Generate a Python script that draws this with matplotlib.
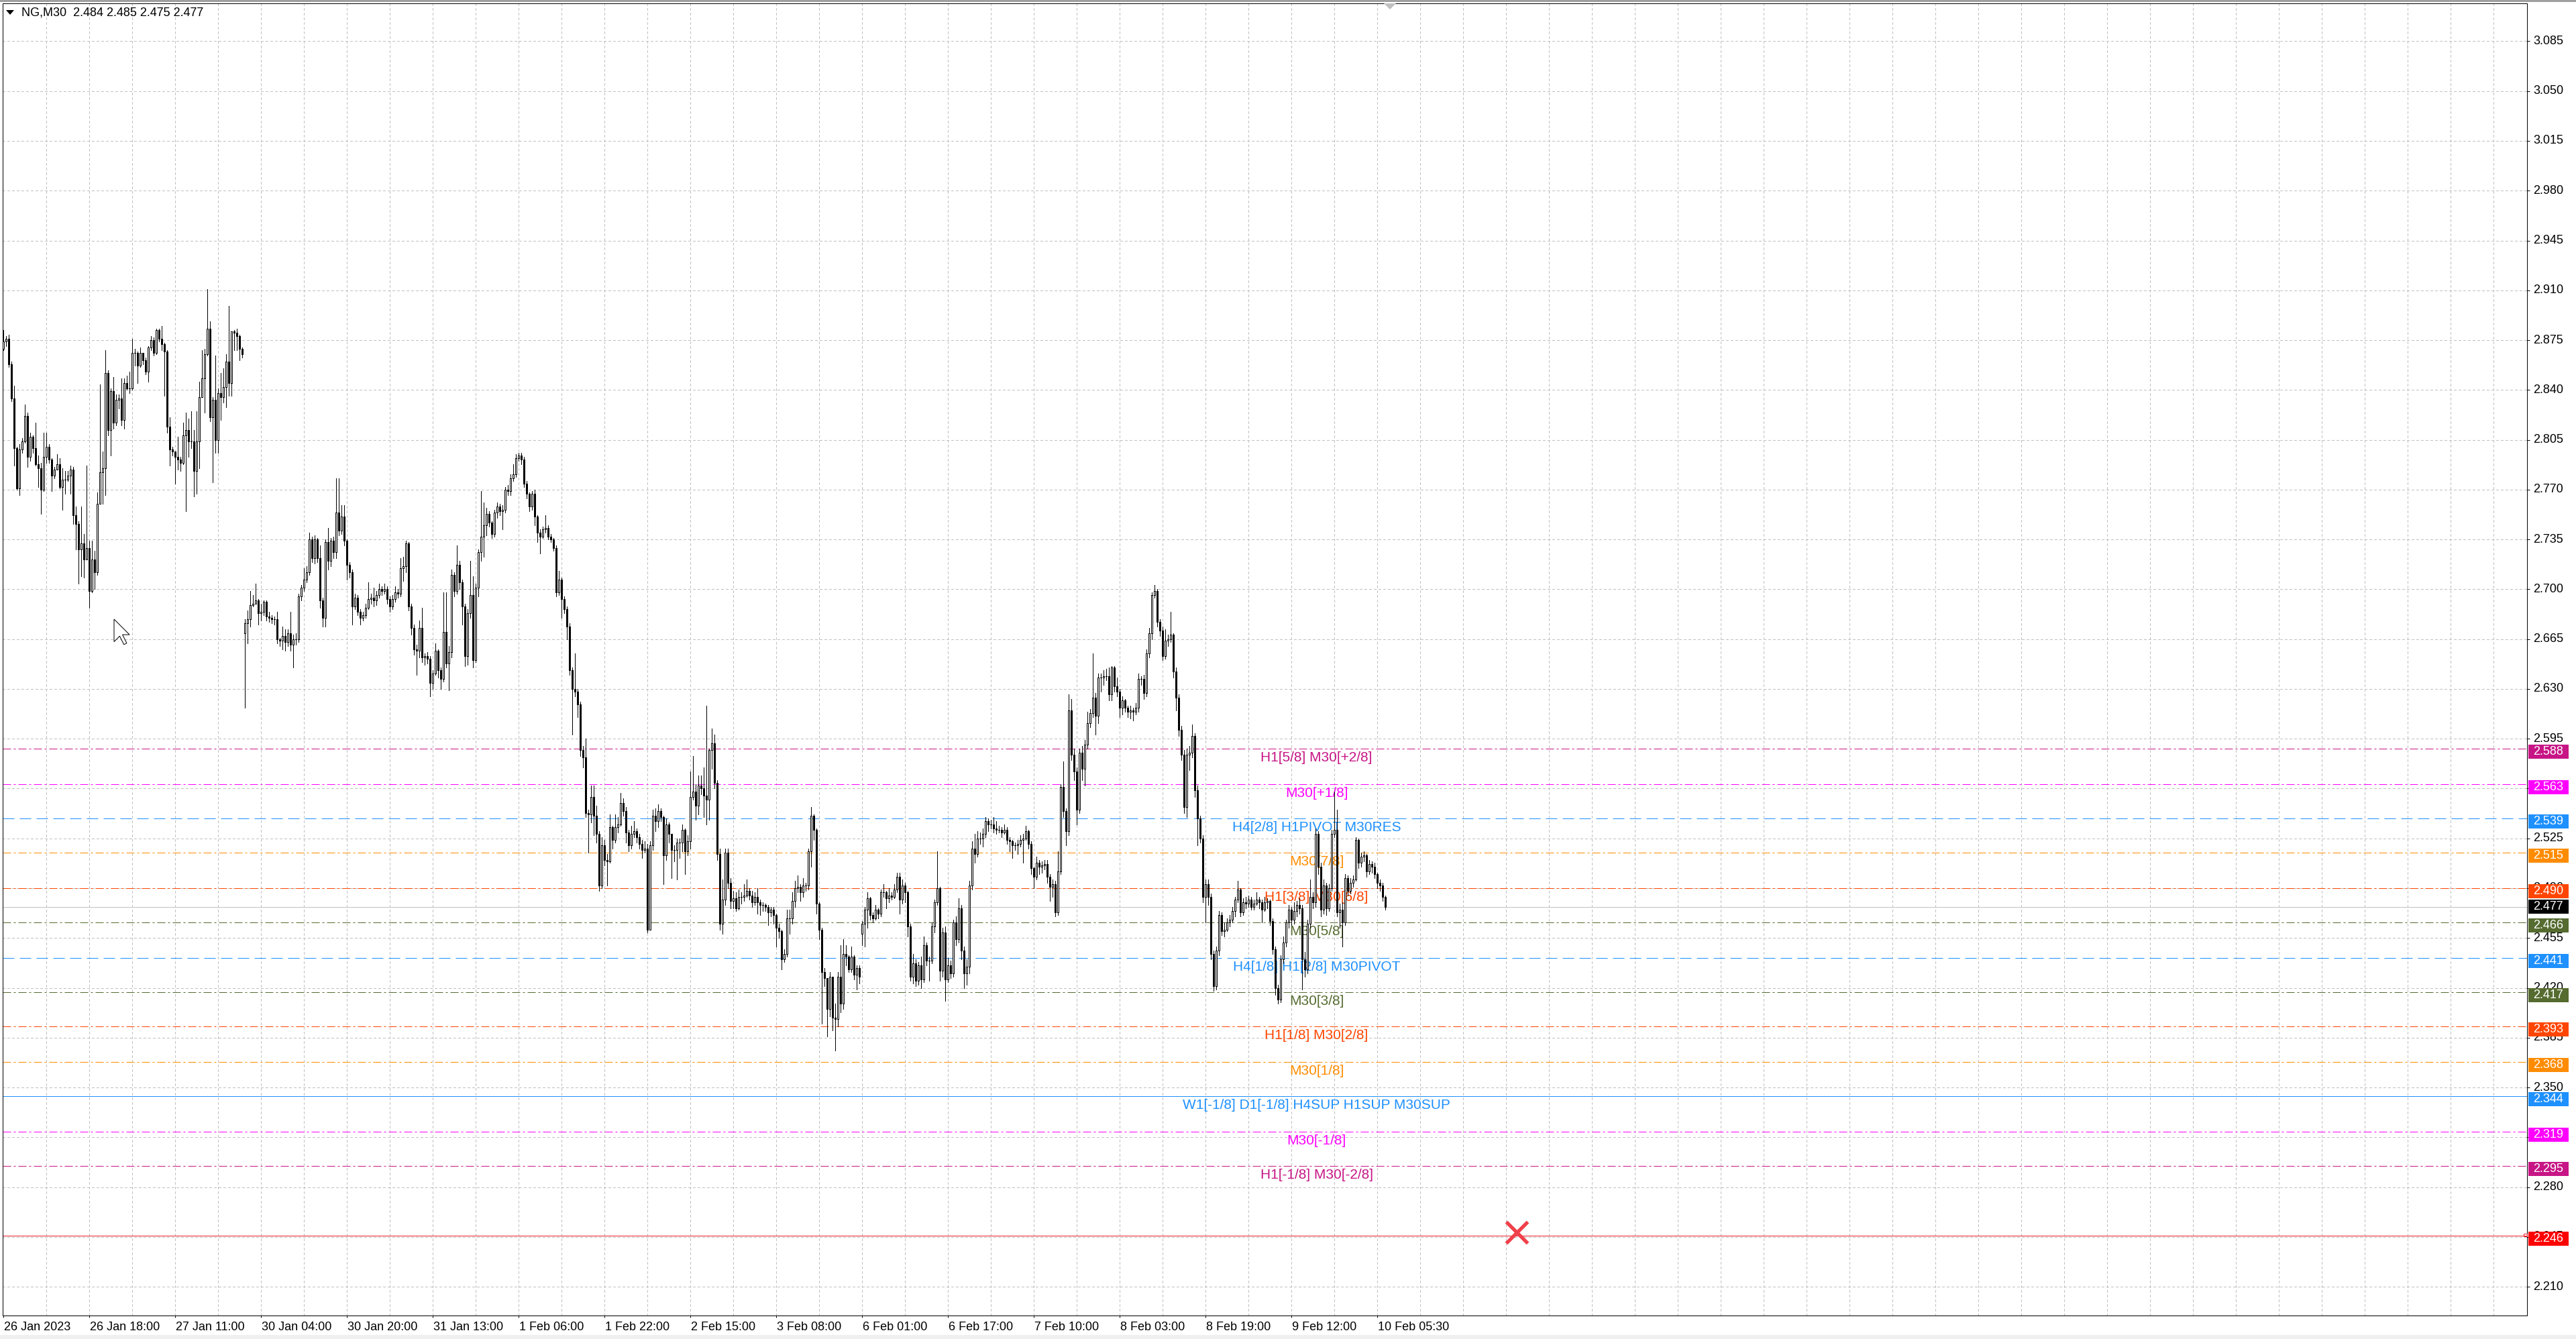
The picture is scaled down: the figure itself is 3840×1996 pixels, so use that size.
import matplotlib
matplotlib.use("Agg")
import matplotlib.pyplot as plt
from matplotlib import transforms
from matplotlib.collections import LineCollection
from matplotlib.patches import Rectangle, Polygon
import numpy as np

plt.rcParams['font.family'] = ['Liberation Sans', 'DejaVu Sans']
plt.rcParams['lines.scale_dashes'] = False

W, H = 3840, 1996
PX = 0.72  # one pixel in points (dpi 100)

header = "NG,M30  2.484 2.485 2.475 2.477"

# NG M30 bars, prices in thousandths
closes = [
    2874, 2876, 2858, 2834, 2799, 2771, 2798, 2804, 2822, 2793,
    2807, 2799, 2788, 2785, 2770, 2793, 2800, 2791, 2780, 2784,
    2788, 2772, 2777, 2777, 2780, 2784, 2752, 2746, 2728, 2732,
    2721, 2729, 2699, 2721, 2712, 2760, 2782, 2785, 2852, 2812,
    2839, 2817, 2833, 2834, 2819, 2845, 2841, 2841, 2866, 2866,
    2857, 2866, 2861, 2853, 2870, 2875, 2866, 2882, 2876, 2872,
    2867, 2814, 2798, 2797, 2793, 2791, 2789, 2808, 2812, 2804,
    2804, 2783, 2804, 2835, 2848, 2865, 2883, 2821, 2833, 2805,
    2838, 2835, 2842, 2860, 2845, 2881, 2880, 2878, 2869, 2865,
    2676, 2679, 2689, 2690, 2692, 2683, 2684, 2691, 2681, 2680,
    2679, 2679, 2665, 2664, 2667, 2663, 2669, 2661, 2665, 2665,
    2695, 2701, 2707, 2712, 2735, 2722, 2735, 2722, 2692, 2680,
    2733, 2720, 2734, 2726, 2754, 2741, 2751, 2734, 2717, 2712,
    2688, 2694, 2684, 2680, 2682, 2687, 2693, 2694, 2692, 2696,
    2700, 2699, 2700, 2693, 2688, 2693, 2698, 2697, 2715, 2716,
    2732, 2688, 2673, 2658, 2657, 2673, 2652, 2653, 2651, 2634,
    2641, 2657, 2643, 2637, 2670, 2648, 2656, 2710, 2699, 2717,
    2705, 2688, 2653, 2683, 2696, 2650, 2701, 2726, 2737, 2745,
    2753, 2747, 2739, 2754, 2758, 2755, 2756, 2770, 2769, 2778,
    2781, 2792, 2794, 2791, 2774, 2767, 2758, 2767, 2751, 2740,
    2737, 2742, 2743, 2737, 2735, 2729, 2698, 2707, 2693, 2686,
    2674, 2643, 2630, 2628, 2619, 2587, 2582, 2543, 2542, 2554,
    2541, 2528, 2492, 2520, 2510, 2509, 2533, 2524, 2533, 2535,
    2550, 2544, 2529, 2520, 2528, 2530, 2526, 2521, 2517, 2518,
    2461, 2520, 2541, 2537, 2544, 2540, 2513, 2535, 2528, 2517,
    2517, 2522, 2522, 2531, 2516, 2523, 2554, 2558, 2548, 2562,
    2560, 2555, 2552, 2587, 2592, 2564, 2514, 2465, 2482, 2515,
    2494, 2481, 2483, 2476, 2484, 2484, 2485, 2488, 2485, 2480,
    2484, 2480, 2478, 2478, 2477, 2473, 2475, 2471, 2462, 2460,
    2440, 2444, 2469, 2469, 2481, 2490, 2491, 2487, 2492, 2492,
    2516, 2541, 2531, 2479, 2461, 2431, 2427, 2405, 2428, 2399,
    2398, 2428, 2409, 2444, 2442, 2433, 2442, 2429, 2434, 2428,
    2465, 2475, 2483, 2471, 2469, 2475, 2472, 2487, 2487, 2483,
    2485, 2484, 2489, 2498, 2482, 2492, 2487, 2463, 2428, 2437,
    2425, 2436, 2426, 2450, 2439, 2439, 2463, 2480, 2490, 2432,
    2459, 2426, 2436, 2430, 2466, 2454, 2476, 2446, 2430, 2435,
    2492, 2518, 2514, 2525, 2525, 2528, 2537, 2535, 2535, 2532,
    2531, 2531, 2529, 2531, 2524, 2523, 2520, 2520, 2521, 2524,
    2525, 2530, 2521, 2504, 2498, 2508, 2505, 2506, 2507, 2498,
    2491, 2493, 2473, 2502, 2561, 2544, 2530, 2615, 2584, 2572,
    2545, 2585, 2574, 2591, 2606, 2613, 2624, 2611, 2638, 2638,
    2639, 2639, 2626, 2645, 2632, 2628, 2617, 2622, 2617, 2614,
    2615, 2614, 2617, 2637, 2637, 2627, 2655, 2669, 2696, 2699,
    2677, 2671, 2653, 2664, 2665, 2668, 2642, 2624, 2601, 2584,
    2547, 2584, 2585, 2597, 2559, 2539, 2525, 2484, 2493, 2484,
    2444, 2421, 2446, 2471, 2460, 2461, 2466, 2468, 2474, 2482,
    2489, 2473, 2480, 2479, 2482, 2477, 2479, 2482, 2480, 2475,
    2480, 2481, 2467, 2447, 2420, 2412, 2440, 2452, 2466, 2475,
    2468, 2474, 2478, 2476, 2440, 2433, 2465, 2484, 2480, 2528,
    2505, 2475, 2492, 2476, 2490, 2528, 2531, 2473, 2475, 2466,
    2497, 2488, 2494, 2496, 2524, 2508, 2512, 2513, 2502, 2507,
    2505, 2500, 2494, 2492, 2484, 2477,
]
highs = [
    2882, 2878, 2879, 2860, 2843, 2800, 2802, 2806, 2830, 2824,
    2810, 2808, 2817, 2794, 2789, 2810, 2810, 2802, 2792, 2786,
    2795, 2792, 2785, 2783, 2783, 2787, 2786, 2758, 2748, 2758,
    2739, 2787, 2734, 2734, 2727, 2768, 2844, 2797, 2868, 2854,
    2841, 2849, 2837, 2837, 2848, 2848, 2850, 2853, 2876, 2869,
    2867, 2870, 2866, 2863, 2871, 2878, 2877, 2883, 2883, 2885,
    2873, 2868, 2821, 2800, 2797, 2807, 2793, 2817, 2824, 2820,
    2825, 2812, 2825, 2846, 2868, 2869, 2911, 2888, 2835, 2864,
    2841, 2852, 2855, 2865, 2899, 2881, 2882, 2883, 2879, 2870,
    2679, 2685, 2699, 2696, 2704, 2693, 2690, 2692, 2692, 2684,
    2682, 2681, 2684, 2666, 2674, 2672, 2672, 2684, 2668, 2669,
    2697, 2703, 2715, 2716, 2740, 2737, 2738, 2736, 2731, 2694,
    2735, 2743, 2736, 2737, 2778, 2778, 2759, 2759, 2735, 2719,
    2714, 2697, 2696, 2686, 2684, 2690, 2705, 2697, 2701, 2699,
    2704, 2702, 2704, 2702, 2695, 2696, 2702, 2700, 2722, 2723,
    2734, 2733, 2690, 2675, 2661, 2678, 2687, 2655, 2656, 2653,
    2643, 2662, 2658, 2645, 2698, 2698, 2660, 2714, 2712, 2731,
    2720, 2707, 2690, 2686, 2720, 2709, 2704, 2728, 2769, 2761,
    2757, 2755, 2748, 2756, 2761, 2760, 2759, 2772, 2773, 2781,
    2788, 2795, 2796, 2796, 2793, 2776, 2768, 2769, 2770, 2752,
    2742, 2744, 2752, 2745, 2739, 2736, 2731, 2713, 2708, 2695,
    2688, 2676, 2645, 2655, 2630, 2621, 2590, 2595, 2545, 2562,
    2562, 2548, 2530, 2526, 2524, 2514, 2542, 2534, 2542, 2540,
    2557, 2553, 2547, 2531, 2534, 2537, 2532, 2528, 2524, 2523,
    2521, 2523, 2545, 2546, 2549, 2546, 2541, 2539, 2536, 2528,
    2520, 2525, 2525, 2535, 2532, 2527, 2572, 2583, 2563, 2569,
    2569, 2575, 2618, 2588, 2602, 2598, 2566, 2518, 2496, 2518,
    2518, 2497, 2488, 2487, 2489, 2487, 2493, 2496, 2490, 2488,
    2487, 2490, 2482, 2480, 2479, 2478, 2477, 2477, 2472, 2465,
    2461, 2447, 2475, 2475, 2487, 2495, 2499, 2493, 2497, 2494,
    2518, 2547, 2542, 2532, 2480, 2462, 2434, 2427, 2431, 2427,
    2409, 2431, 2450, 2454, 2450, 2443, 2449, 2443, 2436, 2436,
    2467, 2477, 2487, 2484, 2473, 2478, 2476, 2489, 2493, 2488,
    2490, 2487, 2493, 2501, 2501, 2496, 2494, 2488, 2465, 2444,
    2440, 2438, 2442, 2456, 2452, 2442, 2466, 2482, 2516, 2491,
    2462, 2463, 2441, 2439, 2468, 2470, 2483, 2478, 2449, 2440,
    2495, 2523, 2528, 2530, 2529, 2532, 2540, 2539, 2538, 2540,
    2537, 2534, 2533, 2535, 2533, 2526, 2524, 2522, 2524, 2527,
    2528, 2534, 2531, 2523, 2505, 2512, 2510, 2509, 2510, 2510,
    2500, 2496, 2495, 2516, 2563, 2579, 2546, 2626, 2623, 2588,
    2575, 2588, 2590, 2594, 2614, 2616, 2655, 2627, 2641, 2641,
    2643, 2644, 2645, 2646, 2646, 2638, 2630, 2625, 2623, 2618,
    2618, 2617, 2620, 2641, 2639, 2640, 2658, 2673, 2698, 2703,
    2700, 2679, 2674, 2672, 2668, 2684, 2669, 2645, 2626, 2604,
    2587, 2588, 2590, 2605, 2599, 2562, 2541, 2527, 2496, 2496,
    2486, 2446, 2449, 2474, 2473, 2466, 2469, 2471, 2477, 2484,
    2495, 2490, 2483, 2484, 2485, 2484, 2482, 2487, 2484, 2482,
    2484, 2483, 2482, 2469, 2449, 2422, 2443, 2456, 2468, 2478,
    2477, 2480, 2481, 2483, 2478, 2445, 2468, 2496, 2487, 2532,
    2530, 2508, 2496, 2494, 2493, 2531, 2558, 2545, 2479, 2480,
    2500, 2499, 2497, 2499, 2526, 2525, 2515, 2516, 2514, 2510,
    2509, 2508, 2501, 2496, 2494, 2485,
]
lows = [
    2868, 2871, 2856, 2832, 2787, 2770, 2766, 2796, 2803, 2786,
    2790, 2796, 2787, 2772, 2753, 2769, 2789, 2789, 2769, 2778,
    2785, 2771, 2756, 2767, 2776, 2767, 2746, 2728, 2704, 2709,
    2708, 2724, 2687, 2698, 2700, 2710, 2760, 2760, 2766, 2808,
    2794, 2813, 2815, 2827, 2815, 2813, 2840, 2838, 2840, 2857,
    2845, 2856, 2858, 2851, 2846, 2868, 2864, 2865, 2874, 2868,
    2836, 2810, 2787, 2794, 2774, 2784, 2783, 2788, 2755, 2793,
    2799, 2765, 2767, 2785, 2836, 2824, 2864, 2818, 2775, 2796,
    2796, 2819, 2831, 2828, 2836, 2836, 2868, 2868, 2861, 2863,
    2617, 2662, 2674, 2688, 2690, 2675, 2678, 2682, 2678, 2677,
    2676, 2675, 2662, 2660, 2658, 2657, 2660, 2657, 2645, 2661,
    2663, 2692, 2699, 2705, 2710, 2719, 2718, 2719, 2687, 2674,
    2674, 2714, 2716, 2722, 2722, 2738, 2739, 2731, 2707, 2708,
    2675, 2686, 2682, 2675, 2678, 2680, 2686, 2690, 2688, 2689,
    2694, 2696, 2697, 2690, 2684, 2686, 2691, 2694, 2695, 2706,
    2712, 2685, 2668, 2654, 2640, 2652, 2649, 2647, 2648, 2625,
    2630, 2640, 2638, 2630, 2635, 2645, 2629, 2652, 2695, 2697,
    2700, 2675, 2646, 2647, 2680, 2645, 2649, 2695, 2720, 2723,
    2738, 2744, 2736, 2737, 2750, 2752, 2742, 2754, 2766, 2766,
    2776, 2779, 2790, 2788, 2772, 2764, 2755, 2756, 2745, 2733,
    2725, 2736, 2740, 2735, 2733, 2727, 2695, 2696, 2680, 2683,
    2665, 2640, 2598, 2625, 2610, 2583, 2575, 2540, 2515, 2536,
    2527, 2522, 2488, 2490, 2506, 2492, 2508, 2518, 2522, 2529,
    2534, 2541, 2522, 2516, 2518, 2526, 2522, 2518, 2511, 2515,
    2459, 2461, 2517, 2530, 2533, 2537, 2493, 2510, 2522, 2497,
    2509, 2496, 2511, 2516, 2500, 2513, 2518, 2552, 2538, 2542,
    2556, 2540, 2535, 2538, 2574, 2560, 2510, 2461, 2458, 2478,
    2490, 2476, 2476, 2474, 2475, 2479, 2481, 2484, 2482, 2477,
    2478, 2472, 2471, 2474, 2474, 2464, 2470, 2465, 2449, 2455,
    2433, 2438, 2442, 2458, 2465, 2477, 2487, 2481, 2484, 2488,
    2489, 2505, 2524, 2472, 2454, 2395, 2421, 2386, 2400, 2390,
    2376, 2393, 2403, 2405, 2436, 2431, 2431, 2426, 2419, 2423,
    2450, 2449, 2462, 2468, 2466, 2468, 2469, 2470, 2484, 2476,
    2480, 2482, 2483, 2487, 2472, 2479, 2480, 2456, 2425, 2423,
    2421, 2422, 2420, 2424, 2436, 2425, 2437, 2459, 2478, 2425,
    2428, 2411, 2424, 2427, 2428, 2450, 2452, 2440, 2420, 2422,
    2430, 2489, 2508, 2512, 2521, 2519, 2526, 2530, 2532, 2529,
    2528, 2529, 2526, 2528, 2521, 2516, 2511, 2517, 2514, 2519,
    2508, 2524, 2518, 2500, 2490, 2496, 2500, 2501, 2503, 2494,
    2481, 2484, 2470, 2471, 2500, 2540, 2520, 2527, 2580, 2566,
    2535, 2543, 2566, 2562, 2588, 2603, 2610, 2598, 2606, 2628,
    2633, 2636, 2622, 2622, 2628, 2625, 2610, 2612, 2614, 2610,
    2609, 2608, 2612, 2614, 2633, 2623, 2625, 2652, 2665, 2694,
    2674, 2667, 2650, 2651, 2660, 2663, 2638, 2615, 2597, 2580,
    2543, 2540, 2573, 2582, 2554, 2520, 2522, 2480, 2466, 2478,
    2440, 2418, 2419, 2443, 2457, 2456, 2460, 2463, 2466, 2470,
    2480, 2470, 2471, 2476, 2477, 2475, 2475, 2478, 2476, 2466,
    2474, 2476, 2464, 2444, 2415, 2409, 2410, 2437, 2449, 2462,
    2464, 2465, 2470, 2472, 2419, 2428, 2430, 2462, 2476, 2477,
    2500, 2470, 2472, 2471, 2474, 2488, 2526, 2470, 2462, 2449,
    2464, 2485, 2486, 2491, 2495, 2504, 2505, 2509, 2498, 2500,
    2501, 2497, 2490, 2488, 2481, 2475,
]
# bars whose open is not the previous close (session gaps)
gap_opens = {0: 2869, 90: 2669, 320: 2458}

date_labels = ["26 Jan 2023", "26 Jan 18:00", "27 Jan 11:00", "30 Jan 04:00",
               "30 Jan 20:00", "31 Jan 13:00", "1 Feb 06:00", "1 Feb 22:00",
               "2 Feb 15:00", "3 Feb 08:00", "6 Feb 01:00", "6 Feb 17:00",
               "7 Feb 10:00", "8 Feb 03:00", "8 Feb 19:00", "9 Feb 12:00",
               "10 Feb 05:30"]
bars_per_label = 32

price_ticks = [2.210, 2.245, 2.280, 2.315, 2.350, 2.385, 2.420, 2.455, 2.490,
               2.525, 2.560, 2.595, 2.630, 2.665, 2.700, 2.735, 2.770, 2.805,
               2.840, 2.875, 2.910, 2.945, 2.980, 3.015, 3.050, 3.085]

level_prices = [2.588, 2.563, 2.539, 2.515, 2.490, 2.466, 2.441,
                2.417, 2.393, 2.368, 2.344, 2.319, 2.295]
level_names = ["H1[5/8] M30[+2/8]", "M30[+1/8]", "H4[2/8] H1PIVOT M30RES",
               "M30[7/8]", "H1[3/8] M30[6/8]", "M30[5/8]",
               "H4[1/8] H1[2/8] M30PIVOT", "M30[3/8]", "H1[1/8] M30[2/8]",
               "M30[1/8]", "W1[-1/8] D1[-1/8] H4SUP H1SUP M30SUP",
               "M30[-1/8]", "H1[-1/8] M30[-2/8]"]
level_colors = ["#C71585", "#FF00FF", "#1E90FF", "#FF8C00", "#FF4500",
                "#556B2F", "#1E90FF", "#556B2F", "#FF4500", "#FF8C00",
                "#1E90FF", "#FF00FF", "#C71585"]
level_kinds = ["dashdot", "dashdot", "dash", "dashdot", "dashdot", "dashdot",
               "dash", "dashdot", "dashdot", "dashdot", "solid", "dashdot",
               "dashdot"]

bid = 2.477
stop_price = 2.246
stop_bar = 564

# ---------------------------------------------------------------------------
n = min(len(closes), len(highs), len(lows))
c = np.array(closes[:n]) / 1000
hi = np.array(highs[:n]) / 1000
lo = np.array(lows[:n]) / 1000
o = np.array([gap_opens.get(i, closes[i - 1] if i else closes[0])
              for i in range(n)]) / 1000
x = np.arange(n)

fig = plt.figure(figsize=(W / 100, H / 100), dpi=100)
fig.patch.set_facecolor("white")
X0, X1, Y0, Y1 = 4, 3767, 5, 1961
ax = fig.add_axes([X0 / W, 1 - Y1 / H, (X1 - X0) / W, (Y1 - Y0) / H])
ax.set_xlim(-0.25, 940.5)
ax.set_ylim(2.1898, 3.1116)
ax.set_facecolor("white")

# grid
grid_ls = (0, (3 * PX, 3 * PX))
for gx in range(16, 941, 16):
    ax.axvline(gx, color="#c0c0c0", lw=PX, ls=grid_ls, zorder=0.5, antialiased=False)
for p in price_ticks:
    ax.axhline(p, color="#c0c0c0", lw=PX, ls=grid_ls, zorder=0.5, antialiased=False)

# level lines + labels
styles = {"dashdot": (0, (12 * PX, 4 * PX, 3 * PX, 4 * PX)),
          "dash": (0, (17 * PX, 8 * PX)),
          "solid": "-"}
label_bar = 489.4
for p, name, col, kind in zip(level_prices, level_names, level_colors, level_kinds):
    ax.axhline(p, color=col, lw=PX, ls=styles[kind], zorder=2)
    ax.annotate(name, (label_bar, p), xytext=(0, -2.8), textcoords="offset points",
                ha="center", va="top", color=col, fontsize=15, zorder=3)

ax.axhline(bid, color="#c0c0c0", lw=PX, zorder=2)
ax.axhline(stop_price, color="#e8202a", lw=PX, zorder=2)
ax.plot([stop_bar], [stop_price], marker="x", ms=23, mew=3.8, color="#f0404a",
        zorder=6, transform=ax.transData + transforms.ScaledTranslation(0, 5 / 100, fig.dpi_scale_trans))

# candles
wicks = LineCollection([[(i, lo[i]), (i, hi[i])] for i in range(n)],
                       colors="black", linewidths=PX, zorder=4, antialiaseds=False)
ax.add_collection(wicks)
up = c >= o
ax.bar(x, np.abs(c - o), bottom=np.minimum(o, c), width=0.5,
       color=["white" if u else "black" for u in up], edgecolor="black",
       linewidth=PX, zorder=5, antialiased=False)

# axes frame and ticks
ax.yaxis.tick_right()
ax.set_yticks(price_ticks)
ax.set_xticks(range(0, bars_per_label * len(date_labels), bars_per_label))
ax.tick_params(axis="both", direction="out", width=PX, color="black",
               labelleft=False, labelright=False, labelbottom=False)
ax.tick_params(axis="y", length=4 * PX)
ax.tick_params(axis="x", length=3 * PX)
for s in ax.spines.values():
    s.set_linewidth(PX)
    s.set_color("black")

ident = transforms.IdentityTransform()


def ypix(price):
    return ax.transData.transform((0, price))[1]


def xpix(bar):
    return ax.transData.transform((bar, 0))[0]


# price scale labels
for p in price_ticks:
    fig.text(3776.6, ypix(p), f"{p:.3f}", transform=ident, ha="left", va="center",
             fontsize=13, color="black", zorder=3)

# price boxes on the scale
box_prices = level_prices + [stop_price]
box_colors = level_colors + ["#FF0000"]
for p, col in zip(box_prices, box_colors):
    yc = ypix(p) - 4.5
    fig.add_artist(Rectangle((3768.6, yc - 10.5), 60.1, 21, transform=ident,
                             facecolor=col, edgecolor="none", zorder=4))
    fig.text(3776.6, yc, f"{p:.3f}", transform=ident, ha="left", va="center",
             fontsize=13, color="white", zorder=5)
yc = ypix(bid)
fig.add_artist(Rectangle((3768.6, yc - 10.5), 60.1, 21, transform=ident,
                         facecolor="black", edgecolor="none", zorder=4))
fig.text(3776.6, yc, f"{bid:.3f}", transform=ident, ha="left", va="center",
         fontsize=13, color="white", zorder=5)
fig.add_artist(Rectangle((3762, H - 1843), 4.5, 4, transform=ident, fill=False,
                         edgecolor="#e8202a", lw=PX, zorder=4))

# time scale labels
for k, lab in enumerate(date_labels):
    fig.text(xpix(k * bars_per_label) + 1, H - 1978.5, lab, transform=ident,
             ha="left", va="center", fontsize=13, color="black", zorder=3)

# header
fig.text(31.6, H - 19, header, transform=ident, ha="left", va="center",
         fontsize=13, color="black", zorder=3)
fig.add_artist(Polygon([(9, H - 15), (21, H - 15), (15, H - 22)], closed=True,
                       transform=ident, facecolor="black", edgecolor="none", zorder=3))

# chart shift marker
fig.add_artist(Polygon([(2063, H - 5), (2081, H - 5), (2072, H - 14)], closed=True,
                       transform=ident, facecolor="#c0c0c0", edgecolor="none", zorder=3))

# mouse pointer
tip = (170, H - 923)
arrow = [(0, 0), (0, 16), (4, 12), (7, 18), (9, 17), (6, 11), (11, 11)]
fig.add_artist(Polygon([(tip[0] + 2.1 * a, tip[1] - 2.1 * b) for a, b in arrow],
                       closed=True, transform=ident, facecolor="white",
                       edgecolor="black", lw=PX, zorder=6))

# window edges
fig.add_artist(Rectangle((0, H - 3), W, 3, transform=ident, facecolor="#a0a0a0",
                         edgecolor="none", zorder=2))
fig.add_artist(Rectangle((0, 0), W, 6, transform=ident, facecolor="#f0f0f0",
                         edgecolor="none", zorder=2))

fig.savefig("out.png", dpi=100)
